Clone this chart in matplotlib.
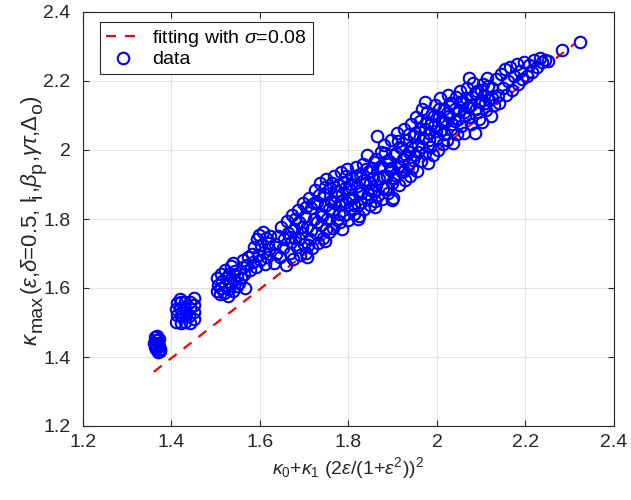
import numpy as np
import matplotlib
matplotlib.use('Agg')
import matplotlib.pyplot as plt
from matplotlib.transforms import IdentityTransform

plt.rcParams['font.family'] = ['Liberation Sans', 'DejaVu Sans']
plt.rcParams['mathtext.fontset'] = 'custom'
plt.rcParams['mathtext.rm'] = 'Liberation Sans'
plt.rcParams['mathtext.it'] = 'Liberation Sans:italic'

# fitted line (y = x)
fit_x = [1.36, 2.31]
fit_y = [1.357, 2.307]

# data points, (x, y) per cluster
cluster_137 = [(1.362, 1.458), (1.368, 1.462), (1.364, 1.448), (1.371, 1.452),
               (1.360, 1.440), (1.369, 1.441), (1.363, 1.430), (1.372, 1.433),
               (1.366, 1.422), (1.373, 1.424), (1.369, 1.414), (1.375, 1.418),
               (1.365, 1.436)]

cluster_143 = [(1.411, 1.502), (1.412, 1.521), (1.410, 1.540), (1.412, 1.556),
               (1.421, 1.500), (1.422, 1.520), (1.420, 1.541), (1.421, 1.560),
               (1.419, 1.568), (1.431, 1.501), (1.432, 1.522), (1.430, 1.540),
               (1.431, 1.558), (1.441, 1.500), (1.440, 1.520), (1.442, 1.541),
               (1.441, 1.559), (1.451, 1.510), (1.452, 1.530), (1.450, 1.551),
               (1.452, 1.572)]

cluster_153 = [(1.502, 1.592), (1.505, 1.610), (1.503, 1.628), (1.509, 1.582),
               (1.512, 1.600), (1.514, 1.620), (1.511, 1.640), (1.518, 1.585),
               (1.521, 1.605), (1.523, 1.630), (1.520, 1.652), (1.527, 1.578),
               (1.530, 1.598), (1.532, 1.615), (1.529, 1.642), (1.534, 1.664),
               (1.538, 1.590), (1.541, 1.622), (1.543, 1.650), (1.540, 1.672),
               (1.547, 1.605), (1.549, 1.635), (1.552, 1.615), (1.556, 1.630),
               (1.561, 1.662), (1.566, 1.600), (1.562, 1.682)]

cluster_160 = [(1.565, 1.640), (1.570, 1.668), (1.574, 1.690), (1.578, 1.652),
               (1.581, 1.700), (1.584, 1.675), (1.587, 1.720), (1.590, 1.662),
               (1.593, 1.742), (1.596, 1.695), (1.598, 1.755), (1.601, 1.680),
               (1.603, 1.725), (1.606, 1.762), (1.608, 1.705), (1.611, 1.670),
               (1.613, 1.745), (1.615, 1.690), (1.618, 1.730), (1.620, 1.712),
               (1.622, 1.750)]

band_low = [(1.632, 1.672), (1.636, 1.700), (1.634, 1.728), (1.641, 1.752),
            (1.645, 1.690), (1.648, 1.778), (1.652, 1.715), (1.655, 1.742),
            (1.658, 1.668), (1.661, 1.795), (1.664, 1.760), (1.667, 1.701),
            (1.669, 1.732), (1.672, 1.812), (1.674, 1.684), (1.677, 1.770),
            (1.680, 1.745), (1.683, 1.718), (1.686, 1.826), (1.689, 1.792),
            (1.691, 1.695), (1.694, 1.760), (1.697, 1.845), (1.699, 1.728),
            (1.702, 1.810), (1.704, 1.702), (1.707, 1.778), (1.710, 1.862),
            (1.712, 1.742), (1.715, 1.832), (1.718, 1.716), (1.721, 1.800),
            (1.724, 1.885), (1.726, 1.760), (1.729, 1.850), (1.732, 1.730),
            (1.735, 1.905), (1.737, 1.815), (1.739, 1.782)]

band_mid = [(1.742, 1.745), (1.744, 1.872), (1.747, 1.838), (1.750, 1.915),
            (1.752, 1.800), (1.755, 1.762), (1.758, 1.890), (1.760, 1.852),
            (1.763, 1.822), (1.766, 1.775), (1.768, 1.925), (1.771, 1.868),
            (1.774, 1.798), (1.776, 1.900), (1.779, 1.840), (1.781, 1.790),
            (1.783, 1.935), (1.786, 1.872), (1.789, 1.908), (1.791, 1.812),
            (1.794, 1.850), (1.797, 1.945), (1.800, 1.798), (1.802, 1.888),
            (1.805, 1.832), (1.808, 1.920), (1.811, 1.862), (1.813, 1.815),
            (1.816, 1.950), (1.819, 1.895), (1.821, 1.842), (1.824, 1.808),
            (1.826, 1.930), (1.829, 1.875), (1.832, 1.960), (1.835, 1.828),
            (1.838, 1.905), (1.841, 1.860), (1.843, 1.985), (1.846, 1.940),
            (1.849, 1.842), (1.852, 1.885), (1.855, 1.918), (1.857, 1.965),
            (1.859, 1.852), (1.862, 1.900), (1.865, 2.040), (1.867, 1.870),
            (1.870, 1.948), (1.873, 1.995), (1.876, 1.858), (1.879, 1.925),
            (1.881, 2.015), (1.884, 1.890), (1.887, 1.968), (1.890, 1.875),
            (1.893, 1.942), (1.896, 2.030), (1.898, 1.905), (1.901, 1.862),
            (1.903, 1.985)]

band_high = [(1.906, 1.928), (1.909, 2.050), (1.912, 1.955), (1.914, 1.898),
             (1.917, 2.010), (1.920, 1.935), (1.923, 1.975), (1.926, 2.060),
             (1.928, 1.912), (1.931, 2.030), (1.934, 1.960), (1.937, 1.995),
             (1.939, 1.925), (1.942, 2.075), (1.944, 1.948), (1.947, 2.040),
             (1.950, 1.985), (1.953, 2.095), (1.955, 1.940), (1.958, 2.015),
             (1.961, 2.060), (1.963, 1.968), (1.966, 2.120), (1.969, 2.035),
             (1.972, 1.990), (1.974, 2.140), (1.977, 2.078), (1.979, 1.962),
             (1.982, 2.050), (1.985, 2.010), (1.988, 2.105), (1.990, 1.985),
             (1.993, 2.070), (1.996, 2.130), (1.999, 2.035), (2.002, 2.000),
             (2.004, 2.095), (2.007, 2.150), (2.010, 2.058), (2.013, 2.018),
             (2.016, 2.120), (2.019, 2.080), (2.022, 2.030), (2.025, 2.160),
             (2.028, 2.100), (2.031, 2.060), (2.034, 2.135), (2.037, 2.020),
             (2.040, 2.085), (2.043, 2.155), (2.046, 2.045), (2.049, 2.115),
             (2.052, 2.170), (2.055, 2.070), (2.058, 2.140)]

band_top = [(2.061, 2.050), (2.064, 2.100), (2.067, 2.180), (2.070, 2.125),
            (2.073, 2.210), (2.076, 2.075), (2.079, 2.155), (2.082, 2.195),
            (2.085, 2.048), (2.088, 2.120), (2.091, 2.170), (2.094, 2.090),
            (2.097, 2.140), (2.101, 2.080), (2.104, 2.190), (2.107, 2.160),
            (2.110, 2.115), (2.114, 2.210), (2.118, 2.145), (2.121, 2.100),
            (2.125, 2.180), (2.129, 2.130), (2.133, 2.205), (2.137, 2.160),
            (2.141, 2.135), (2.145, 2.220), (2.149, 2.180), (2.153, 2.235),
            (2.157, 2.160), (2.161, 2.200), (2.166, 2.240), (2.170, 2.175),
            (2.175, 2.215), (2.180, 2.250), (2.184, 2.190), (2.188, 2.230),
            (2.193, 2.205), (2.197, 2.255), (2.203, 2.215), (2.208, 2.245),
            (2.214, 2.225), (2.219, 2.262), (2.225, 2.240), (2.232, 2.268),
            (2.238, 2.255), (2.244, 2.262), (2.252, 2.258), (2.283, 2.290),
            (2.323, 2.313)]

band_fill = [(1.668, 1.748), (1.679, 1.801), (1.688, 1.742), (1.696, 1.776),
             (1.703, 1.835), (1.709, 1.726), (1.716, 1.768), (1.723, 1.845),
             (1.728, 1.792), (1.733, 1.870), (1.741, 1.810), (1.746, 1.893),
             (1.749, 1.772), (1.756, 1.830), (1.762, 1.905), (1.767, 1.845),
             (1.773, 1.880), (1.778, 1.815), (1.784, 1.852), (1.792, 1.890),
             (1.795, 1.925), (1.801, 1.858), (1.806, 1.902), (1.812, 1.840),
             (1.818, 1.925), (1.823, 1.882), (1.828, 1.848), (1.834, 1.912),
             (1.839, 1.945), (1.844, 1.872), (1.848, 1.905), (1.853, 1.948),
             (1.858, 1.880), (1.863, 1.975), (1.868, 1.915), (1.874, 1.955),
             (1.878, 1.890), (1.883, 1.990), (1.888, 1.925), (1.892, 1.968),
             (1.897, 1.948), (1.902, 1.920), (1.907, 1.992), (1.911, 2.025),
             (1.916, 1.950), (1.921, 2.005), (1.925, 1.940), (1.930, 1.985),
             (1.936, 2.045), (1.941, 2.010), (1.946, 1.972), (1.951, 2.050),
             (1.957, 1.995), (1.962, 2.085), (1.967, 2.010), (1.973, 2.060),
             (1.978, 2.110), (1.983, 2.028), (1.987, 2.075), (1.994, 2.100),
             (1.998, 2.055), (2.005, 2.118), (2.011, 2.085), (2.017, 2.045),
             (2.023, 2.108), (2.029, 2.135), (2.035, 2.075), (2.041, 2.120),
             (2.047, 2.090), (2.053, 2.140), (2.060, 2.110), (2.066, 2.150),
             (2.072, 2.095), (2.078, 2.130), (2.086, 2.165), (2.092, 2.110),
             (2.099, 2.175), (2.108, 2.135), (2.116, 2.185), (2.124, 2.150),
             (1.706, 1.690), (1.748, 1.735), (1.785, 1.772), (1.822, 1.800),
             (1.860, 1.835), (1.899, 1.855)]

pts = np.array(cluster_137 + cluster_143 + cluster_153 + cluster_160 +
               band_low + band_mid + band_high + band_top + band_fill)

fig = plt.figure(figsize=(6.31, 5.0), dpi=100)
ax = fig.add_axes([0.1315, 0.148, 0.8415, 0.828])

ax.plot(fit_x, fit_y, '--', color='red', lw=1.6, dashes=(4.5, 4),
        label=r'fitting with $\sigma$=0.08')
ax.plot(pts[:, 0], pts[:, 1], 'o', mfc='none', mec='blue', ms=8.3, mew=1.5,
        ls='none', label='data')

ticks = [1.2, 1.4, 1.6, 1.8, 2.0, 2.2, 2.4]
tick_labels = ['1.2', '1.4', '1.6', '1.8', '2', '2.2', '2.4']
ax.set_xlim(1.2, 2.4)
ax.set_ylim(1.2, 2.4)
ax.set_xticks(ticks)
ax.set_yticks(ticks)
ax.set_xticklabels(tick_labels)
ax.set_yticklabels(tick_labels)
ax.grid(True, color='#e3e3e3', lw=0.8)
ax.set_axisbelow(True)
ax.tick_params(direction='in', top=True, right=True, labelsize=14,
               colors='#262626', length=4)
ax.tick_params(axis='x', pad=6)
ax.tick_params(axis='y', pad=9)
for s in ax.spines.values():
    s.set_color('#262626')
    s.set_linewidth(0.8)

ax.set_xlabel(r'$\kappa_0$+$\kappa_1$ (2$\epsilon$/(1+$\epsilon^2$))$^2$',
              fontsize=14, color='#262626', labelpad=3)

# y label built from pieces so the subscripts stay large, as in the original
ylabel_parts = [(r'$\kappa$', 16, 0), ('max', 14, 5),
                (r'($\epsilon$,$\delta$=0.5, l', 16, 0), ('i', 14, 5),
                (r',$\beta$', 16, 0), ('p', 14, 5),
                (r',$\gamma\tau$,$\Delta$', 16, 0), ('o', 14, 5),
                (')', 16, 0)]
renderer = fig.canvas.get_renderer()
parts = []
for s, fs, dx in ylabel_parts:
    t = fig.text(0, 0, s, fontsize=fs, color='#262626', rotation=90,
                 rotation_mode='anchor', ha='left', va='baseline',
                 transform=IdentityTransform())
    parts.append((t, dx, t.get_window_extent(renderer).height))
total = sum(h for _, _, h in parts)
y0 = (500 - 221) - total / 2
base_x = 37
for t, dx, h in parts:
    t.set_position((base_x + dx, y0))
    y0 += h

leg = ax.legend(loc='upper left', bbox_to_anchor=(0.032, 0.976),
                borderaxespad=0, fontsize=14, frameon=True, fancybox=False,
                edgecolor='#262626', framealpha=1, handlelength=1.8,
                handletextpad=0.6, borderpad=0.3, labelspacing=0.1)
leg.get_frame().set_linewidth(0.8)

fig.savefig('out.png', dpi=100)
